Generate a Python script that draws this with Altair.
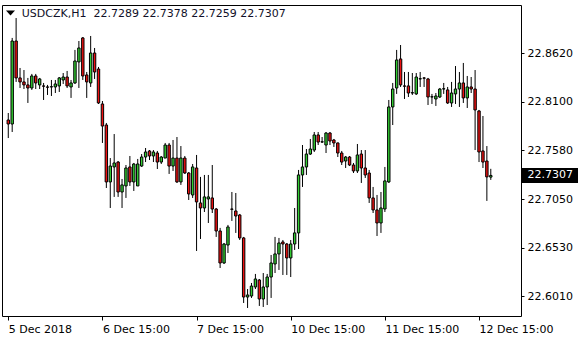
import altair as alt
import pandas as pd

symbol = "USDCZK,H1"

opens = [22.7903, 22.7860, 22.8752, 22.8355, 22.8312, 22.8280, 22.8247, 22.8376, 22.8280, 22.8269,
         22.8258, 22.8258, 22.8258, 22.8269, 22.8333, 22.8365, 22.8258, 22.8301, 22.8527, 22.8785,
         22.8387, 22.8301, 22.8623, 22.8451, 22.8075, 22.7849, 22.7237, 22.7398, 22.7451, 22.7129,
         22.7194, 22.7398, 22.7237, 22.7194, 22.7408, 22.7505, 22.7570, 22.7516, 22.7548, 22.7451,
         22.7494, 22.7634, 22.7408, 22.7494, 22.7237, 22.7494, 22.7333, 22.7097, 22.7387, 22.7011,
         22.6957, 22.7054, 22.7065, 22.6946, 22.6710, 22.6366, 22.6559, 22.6946, 22.6925, 22.6882,
         22.6635, 22.6000, 22.6011, 22.6108, 22.6183, 22.5979, 22.6108, 22.6215, 22.6355, 22.6463,
         22.6592, 22.6570, 22.6420, 22.6570, 22.6689, 22.7312, 22.7398, 22.7537, 22.7580, 22.7742,
         22.7666, 22.7634, 22.7763, 22.7688, 22.7656, 22.7548, 22.7462, 22.7505, 22.7419, 22.7355,
         22.7537, 22.7387, 22.7333, 22.7065, 22.6936, 22.6796, 22.6946, 22.7237, 22.8043, 22.8247,
         22.8559, 22.8269, 22.8269, 22.8193, 22.8183, 22.8344, 22.8355, 22.8344, 22.8150, 22.8129,
         22.8150, 22.8236, 22.8226, 22.8086, 22.8183, 22.8236, 22.8301, 22.8140, 22.8258, 22.8236,
         22.8000, 22.7570, 22.7462, 22.7289]

highs = [22.7978, 22.8785, 22.8999, 22.8462, 22.8440, 22.8355, 22.8398, 22.8398, 22.8355, 22.8301,
         22.8280, 22.8333, 22.8333, 22.8365, 22.8408, 22.8430, 22.8333, 22.8656, 22.8752, 22.8795,
         22.8419, 22.8806, 22.8677, 22.8473, 22.8107, 22.7871, 22.7494, 22.7752, 22.7462, 22.7269,
         22.7419, 22.7516, 22.7441, 22.7484, 22.7537, 22.7602, 22.7580, 22.7580, 22.7570, 22.7516,
         22.7656, 22.7656, 22.7688, 22.7720, 22.7623, 22.7516, 22.7344, 22.7430, 22.7527, 22.7291,
         22.7312, 22.7312, 22.7419, 22.6957, 22.6743, 22.6581, 22.6775, 22.7129, 22.7118, 22.6893,
         22.6646, 22.6086, 22.6151, 22.6248, 22.6194, 22.6258, 22.6248, 22.6452, 22.6646, 22.6635,
         22.6613, 22.6581, 22.6613, 22.6957, 22.7366, 22.7634, 22.7591, 22.7699, 22.7774, 22.7774,
         22.7720, 22.7774, 22.7774, 22.7699, 22.7660, 22.7570, 22.7516, 22.7516, 22.7441, 22.7645,
         22.7580, 22.7580, 22.7366, 22.7183, 22.7097, 22.7129, 22.7398, 22.8118, 22.8301, 22.8656,
         22.8709, 22.8419, 22.8419, 22.8408, 22.8408, 22.8419, 22.8365, 22.8355, 22.8183, 22.8193,
         22.8247, 22.8301, 22.8258, 22.8312, 22.8483, 22.8419, 22.8516, 22.8376, 22.8365, 22.8440,
         22.8011, 22.7946, 22.7623, 22.7378]

lows = [22.7709, 22.7774, 22.8312, 22.8247, 22.8236, 22.8086, 22.8226, 22.8236, 22.8236, 22.8118,
        22.8172, 22.8161, 22.8193, 22.8204, 22.8290, 22.8247, 22.8140, 22.8290, 22.8247, 22.8333,
        22.8140, 22.8258, 22.8344, 22.8075, 22.7656, 22.7172, 22.6957, 22.7076, 22.7076, 22.6957,
        22.7065, 22.7194, 22.7140, 22.7194, 22.7398, 22.7451, 22.7473, 22.7451, 22.7376, 22.7430,
        22.7494, 22.7323, 22.7355, 22.7226, 22.7205, 22.7323, 22.7043, 22.7065, 22.6495, 22.6624,
        22.6914, 22.6796, 22.6903, 22.6646, 22.6312, 22.6355, 22.6473, 22.6818, 22.6689, 22.6613,
        22.5936, 22.5882, 22.5990, 22.6086, 22.5904, 22.5893, 22.5914, 22.5990, 22.6258, 22.6291,
        22.6237, 22.6237, 22.6215, 22.6506, 22.6516, 22.7183, 22.7312, 22.7527, 22.7559, 22.7634,
        22.7656, 22.7548, 22.7634, 22.7613, 22.7505, 22.7419, 22.7387, 22.7408, 22.7333, 22.7333,
        22.7226, 22.7280, 22.7011, 22.6903, 22.6656, 22.6689, 22.6914, 22.7226, 22.7849, 22.8183,
        22.8258, 22.8129, 22.8150, 22.8172, 22.8172, 22.8258, 22.8258, 22.8064, 22.8075, 22.8054,
        22.8140, 22.8183, 22.8075, 22.8043, 22.8075, 22.8043, 22.8086, 22.8032, 22.8193, 22.7580,
        22.7451, 22.7387, 22.7033, 22.7259]

closes = [22.7860, 22.8752, 22.8355, 22.8312, 22.8280, 22.8247, 22.8376, 22.8301, 22.8344, 22.8266,
          22.8255, 22.8261, 22.8290, 22.8355, 22.8365, 22.8269, 22.8301, 22.8537, 22.8677, 22.8376,
          22.8312, 22.8623, 22.8419, 22.8086, 22.7838, 22.7237, 22.7408, 22.7441, 22.7129, 22.7205,
          22.7387, 22.7237, 22.7430, 22.7430, 22.7505, 22.7559, 22.7516, 22.7559, 22.7451, 22.7505,
          22.7634, 22.7408, 22.7494, 22.7237, 22.7494, 22.7333, 22.7108, 22.7398, 22.7022, 22.6957,
          22.7076, 22.7076, 22.6946, 22.6710, 22.6366, 22.6570, 22.6753, 22.6943, 22.6871, 22.6635,
          22.6000, 22.6022, 22.6118, 22.6194, 22.5979, 22.6108, 22.6215, 22.6366, 22.6463, 22.6581,
          22.6570, 22.6420, 22.6570, 22.6689, 22.7312, 22.7398, 22.7537, 22.7591, 22.7742, 22.7666,
          22.7669, 22.7763, 22.7677, 22.7656, 22.7548, 22.7451, 22.7505, 22.7419, 22.7355, 22.7527,
          22.7387, 22.7312, 22.7065, 22.6936, 22.6796, 22.6957, 22.7248, 22.8043, 22.8236, 22.8548,
          22.8280, 22.8266, 22.8193, 22.8197, 22.8365, 22.8347, 22.8352, 22.8150, 22.8153, 22.8161,
          22.8236, 22.8239, 22.8086, 22.8193, 22.8236, 22.8301, 22.8140, 22.8258, 22.8236, 22.8011,
          22.7559, 22.7451, 22.7291, 22.7307]

tick_index = [0, 24, 48, 72, 96, 120]
tick_labels = ["5 Dec 2018", "6 Dec 15:00", "7 Dec 15:00", "10 Dec 15:00", "11 Dec 15:00", "12 Dec 15:00"]
price_ticks = [22.8620, 22.8100, 22.7580, 22.7050, 22.6530, 22.6010]

GREEN = "#32cd32"
RED = "#ee1111"
FONT = "DejaVu Sans"

df = pd.DataFrame({
    "i": list(range(len(opens))),
    "open": opens, "high": highs, "low": lows, "close": closes,
})
df["dir"] = ["up" if c >= o else "down" for o, c in zip(opens, closes)]

last = df.tail(1).copy()
last["label"] = f"{closes[-1]:.4f}"
header = pd.DataFrame({"t": [symbol + "\u00a0\u00a0" + " ".join(
    f"{v:.4f}" for v in (opens[-1], highs[-1], lows[-1], closes[-1]))]})

label_expr = ""
for v, lab in zip(tick_index, tick_labels):
    label_expr += f"datum.value == {v} ? '{lab}' : "
label_expr += "''"

xscale = alt.Scale(domain=[-0.325, 129.425], nice=False, zero=False)
yscale = alt.Scale(domain=[22.5796, 22.9139], nice=False, zero=False)

x_axis = alt.Axis(values=tick_index, labelExpr=label_expr, tickSize=4, tickColor="black",
                  labelAlign="left", labelBaseline="top", labelPadding=3, labelFlush=False,
                  labelOverlap=False, grid=False, domain=False, title=None,
                  labelFont=FONT, labelFontSize=11, labelColor="black")
y_axis = alt.Axis(orient="right", values=price_ticks, format=".4f", tickSize=3, tickColor="black",
                  labelPadding=3, labelFlush=False, labelOverlap=False, grid=False, domain=False,
                  title=None, labelFont=FONT, labelFontSize=11, labelColor="black",
                  labelBaseline="middle")

base = alt.Chart(df)

wicks = base.mark_rule(color="black", strokeWidth=1).encode(
    x=alt.X("i:Q", scale=xscale, axis=x_axis),
    y=alt.Y("low:Q", scale=yscale, axis=y_axis),
    y2="high:Q",
)

bodies = base.mark_bar(size=2.4, stroke="black", strokeWidth=1).encode(
    x=alt.X("i:Q", scale=xscale, axis=x_axis),
    y=alt.Y("open:Q", scale=yscale, axis=y_axis),
    y2="close:Q",
    color=alt.Color("dir:N", scale=alt.Scale(domain=["up", "down"], range=[GREEN, RED]), legend=None),
)

price_box = alt.Chart(last).mark_rule(color="black", strokeWidth=15).encode(
    x=alt.value(520), x2=alt.value(576),
    y=alt.Y("close:Q", scale=yscale, axis=y_axis),
)
price_text = alt.Chart(last).mark_text(align="left", baseline="middle", color="white",
                                       font=FONT, fontSize=11).encode(
    x=alt.value(525.5),
    y=alt.Y("close:Q", scale=yscale, axis=y_axis),
    text="label:N",
)

tri = alt.Chart(header).mark_point(shape="M-1,-0.55L1,-0.55L0,0.55Z", filled=True, color="black",
                                   size=81, opacity=1).encode(
    x=alt.value(8.5), y=alt.value(8)
)
head_text = alt.Chart(header).mark_text(align="left", baseline="alphabetic", color="#101028",
                                        font=FONT, fontSize=11).encode(
    x=alt.value(19.7), y=alt.value(11.7), text="t:N"
)

chart = alt.layer(wicks, bodies, price_box, price_text, tri, head_text).properties(
    width=519, height=311,
    padding={"left": 2, "top": 5, "right": 59, "bottom": 24},
    autosize=alt.AutoSizeParams(type="none"),
    background="white",
).configure_view(stroke="black", strokeWidth=1)

chart.save("out.html", embed_options={"renderer": "svg", "actions": False})
